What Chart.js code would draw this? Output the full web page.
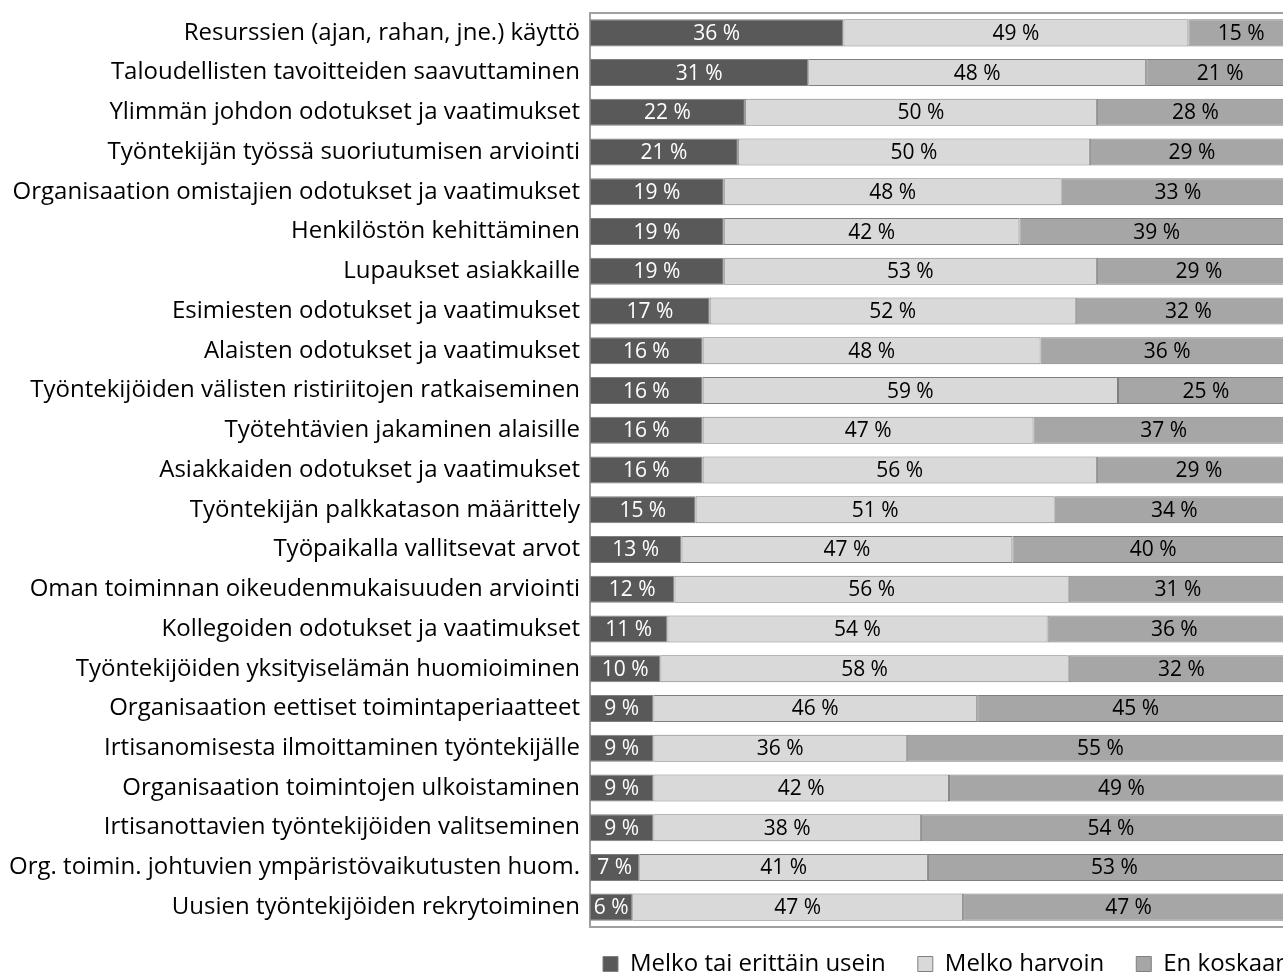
<!DOCTYPE html>
<html>
<head>
<meta charset="utf-8">
<script src="https://cdn.jsdelivr.net/npm/chart.js@4.4.0/dist/chart.umd.min.js"></script>
<style>
  html, body { margin: 0; padding: 0; overflow: hidden; background: #fff; }
</style>
</head>
<body>
<canvas id="chart" width="1300" height="993"></canvas>
<script>
const categories = [
  'Resurssien (ajan, rahan, jne.) käyttö',
  'Taloudellisten tavoitteiden saavuttaminen',
  'Ylimmän johdon odotukset ja vaatimukset',
  'Työntekijän työssä suoriutumisen arviointi',
  'Organisaation omistajien odotukset ja vaatimukset',
  'Henkilöstön kehittäminen',
  'Lupaukset asiakkaille',
  'Esimiesten odotukset ja vaatimukset',
  'Alaisten odotukset ja vaatimukset',
  'Työntekijöiden välisten ristiriitojen ratkaiseminen',
  'Työtehtävien jakaminen alaisille',
  'Asiakkaiden odotukset ja vaatimukset',
  'Työntekijän palkkatason määrittely',
  'Työpaikalla vallitsevat arvot',
  'Oman toiminnan oikeudenmukaisuuden arviointi',
  'Kollegoiden odotukset ja vaatimukset',
  'Työntekijöiden yksityiselämän huomioiminen',
  'Organisaation eettiset toimintaperiaatteet',
  'Irtisanomisesta ilmoittaminen työntekijälle',
  'Organisaation toimintojen ulkoistaminen',
  'Irtisanottavien työntekijöiden valitseminen',
  'Org. toimin. johtuvien ympäristövaikutusten huom.',
  'Uusien työntekijöiden rekrytoiminen'
];

const seriesNames = ['Melko tai erittäin usein', 'Melko harvoin', 'En koskaan'];

const oftenValues  = [36, 31, 22, 21, 19, 19, 19, 17, 16, 16, 16, 16, 15, 13, 12, 11, 10, 9, 9, 9, 9, 7, 6];
const rarelyValues = [49, 48, 50, 50, 48, 42, 53, 52, 48, 59, 47, 56, 51, 47, 56, 54, 58, 46, 36, 42, 38, 41, 47];
const neverValues  = [15, 21, 28, 29, 33, 39, 29, 32, 36, 25, 37, 29, 34, 40, 31, 36, 32, 45, 55, 49, 54, 53, 47];

const FONT = '"Open Sans", "Noto Sans", sans-serif';
const LABEL_SIZE = 24;
const VALUE_SIZE = 21;
const BORDER = '#7f7f7f';
const LEGEND_PAD = 32;

// gray frame round the plot area
const plotFrame = {
  id: 'plotFrame',
  beforeDatasetsDraw(chart) {
    const { ctx, chartArea: { left, top, right, bottom } } = chart;
    ctx.save();
    ctx.strokeStyle = '#a0a0a0';
    ctx.lineWidth = 2;
    ctx.strokeRect(left, top, right - left, bottom - top);
    ctx.restore();
  }
};

// "36 %" style labels centred in each segment
const valueLabels = {
  id: 'valueLabels',
  afterDatasetsDraw(chart) {
    const { ctx } = chart;
    ctx.save();
    ctx.font = `${VALUE_SIZE}px ${FONT}`;
    ctx.textAlign = 'center';
    ctx.textBaseline = 'middle';
    chart.data.datasets.forEach((ds, i) => {
      chart.getDatasetMeta(i).data.forEach((bar, j) => {
        ctx.fillStyle = i === 0 ? '#ffffff' : '#000000';
        ctx.fillText(ds.data[j] + ' %', (bar.x + bar.base) / 2, bar.y + 1);
      });
    });
    ctx.restore();
  }
};

// put the legend under the plot, starting near its left edge
const legendPlace = {
  id: 'legendPlace',
  afterLayout(chart) {
    const lg = chart.legend;
    const shiftX = chart.chartArea.left + 13 - (lg.left + LEGEND_PAD);
    lg.left += shiftX;
    lg.right += shiftX;
    const top = 964 - LEGEND_PAD - LABEL_SIZE / 2;
    lg.bottom += top - lg.top;
    lg.top = top;
  }
};

new Chart(document.getElementById('chart'), {
  type: 'bar',
  data: {
    labels: categories,
    datasets: [
      { label: seriesNames[0], data: oftenValues, backgroundColor: '#595959' },
      { label: seriesNames[1], data: rarelyValues, backgroundColor: '#d9d9d9' },
      { label: seriesNames[2], data: neverValues, backgroundColor: '#a6a6a6' }
    ].map((ds) => ({
      ...ds,
      borderColor: BORDER,
      borderWidth: 1,
      borderSkipped: false,
      categoryPercentage: 0.68,
      barPercentage: 1
    }))
  },
  options: {
    indexAxis: 'y',
    responsive: false,
    animation: false,
    layout: { padding: { top: 13, right: 6, left: 0, bottom: 0 } },
    scales: {
      x: {
        stacked: true,
        min: 0,
        max: 100,
        display: false
      },
      y: {
        stacked: true,
        grid: { display: false, drawTicks: false },
        border: { display: false },
        ticks: {
          color: '#000',
          padding: 10,
          autoSkip: false,
          font: { family: FONT, size: LABEL_SIZE }
        },
        afterFit(scale) {
          scale.width = 590;
          scale.paddingTop = 0;
          scale.paddingBottom = 0;
        }
      }
    },
    plugins: {
      legend: {
        position: 'bottom',
        align: 'start',
        labels: {
          color: '#000',
          boxWidth: 15,
          boxHeight: 15,
          padding: LEGEND_PAD,
          font: { family: FONT, size: LABEL_SIZE }
        }
      },
      tooltip: { enabled: false }
    }
  },
  plugins: [plotFrame, valueLabels, legendPlace]
});
</script>
</body>
</html>
